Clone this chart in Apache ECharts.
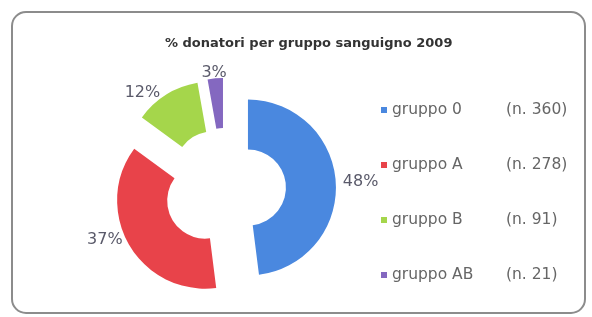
<!DOCTYPE html>
<html>
<head>
<meta charset="utf-8">
<script src="https://cdn.jsdelivr.net/npm/echarts@6/dist/echarts.min.js"></script>
<style>
html,body{margin:0;padding:0;background:#fff;}
#chart{width:592px;height:317px;}
</style>
</head>
<body>
<div id="chart"></div>
<script>
var titleText = '% donatori per gruppo sanguigno 2009';
var categories = ['gruppo 0', 'gruppo A', 'gruppo B', 'gruppo AB'];
var counts = [360, 278, 91, 21];
var colors = ['#4a88df', '#e8434a', '#a5d64b', '#8468c0'];

var chart = echarts.init(document.getElementById('chart'));
var data = categories.map(function (c, i) {
  return { name: c, value: counts[i], selected: true, itemStyle: { color: colors[i] } };
});
chart.setOption({
  backgroundColor: '#fff',
  animation: false,
  graphic: [{
    type: 'rect',
    shape: { x: 12, y: 12, width: 573, height: 301, r: 14 },
    style: { fill: 'none', stroke: '#8c8c8c', lineWidth: 2 },
    silent: true
  }],
  title: {
    text: titleText,
    left: 160, top: 32,
    textStyle: { fontSize: 13, fontWeight: 'bold', color: '#333', fontFamily: 'DejaVu Sans' }
  },
  legend: {
    orient: 'vertical',
    left: 376, top: 96,
    icon: 'rect', itemWidth: 6, itemHeight: 6,
    itemGap: 37,
    selectedMode: false,
    data: categories,
    formatter: function (name) {
      var i = categories.indexOf(name);
      return '{a|' + name + '}{b|(n. ' + counts[i] + ')}';
    },
    textStyle: {
      color: '#666', fontSize: 15.5, lineHeight: 18, fontFamily: 'DejaVu Sans',
      rich: {
        a: { width: 114, fontSize: 15.5, color: '#666', fontFamily: 'DejaVu Sans' },
        b: { fontSize: 15.5, color: '#666', fontFamily: 'DejaVu Sans' }
      }
    }
  },
  series: [{
    type: 'pie',
    center: [225, 189],
    radius: [38, 88],
    startAngle: 90,
    clockwise: true,
    selectedMode: 'multiple',
    selectedOffset: 23,
    percentPrecision: 0,
    avoidLabelOverlap: false,
    label: {
      show: true, position: 'outside', formatter: '{d}%',
      color: '#5a5a6a', fontSize: 16, fontFamily: 'DejaVu Sans'
    },
    labelLine: { show: false, length: 2, length2: 0 },
    labelLayout: function (p) {
      if (p.dataIndex === 3) return { align: 'center', dx: 4, dy: -4 };
      if (p.dataIndex === 1) return { dy: -6 };
      return {};
    },
    emphasis: { disabled: true },
    data: data
  }]
});
</script>
</body>
</html>
